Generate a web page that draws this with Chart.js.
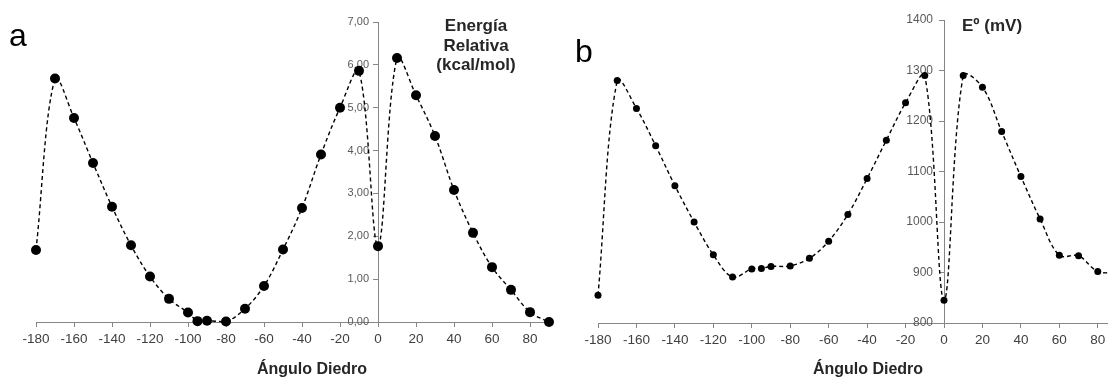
<!DOCTYPE html>
<html>
<head>
<meta charset="utf-8">
<script src="https://cdn.jsdelivr.net/npm/chart.js@4/dist/chart.umd.min.js"></script>
<style>
    html, body { margin: 0; padding: 0; background: #fff; overflow: hidden; width: 1108px; height: 378px; }
    #chart-a { position: absolute; left: 0; top: 0; }
    #chart-b { position: absolute; left: 556px; top: 0; }
</style>
</head>
<body>
<canvas id="chart-a" width="560" height="378"></canvas>
<canvas id="chart-b" width="580" height="378"></canvas>
<script>
// Ángulos diedros (común a los dos paneles)
const angles = [-180, -170, -160, -150, -140, -130, -120, -110, -100, -95, -90, -80, -70, -60, -50,
                -40, -30, -20, -10, 0, 10, 20, 30, 40, 50, 60, 70, 80, 90];

// Panel a: energía relativa (kcal/mol)
const energy = [1.68, 5.68, 4.76, 3.71, 2.69, 1.79, 1.06, 0.54, 0.22, 0.02, 0.03, 0.01, 0.31, 0.84, 1.69,
                2.66, 3.91, 5.00, 5.86, 1.77, 6.16, 5.29, 4.34, 3.08, 2.08, 1.28, 0.75, 0.23, 0.00];

// Panel b: potencial E° (mV)
const potential = [855, 1280, 1225, 1151, 1072, 1000, 935, 891, 907, 908, 912, 913, 928, 962, 1015,
                   1086, 1162, 1236, 1290, 845, 1290, 1267, 1179, 1090, 1006, 934, 933, 902, 900];

// Etiquetas de los ejes
const xTicks = [-180, -160, -140, -120, -100, -80, -60, -40, -20, 0, 20, 40, 60, 80];
const yTicksA = [0, 1, 2, 3, 4, 5, 6, 7];
const yTicksB = [800, 900, 1000, 1100, 1200, 1300, 1400];

const FONT = '"Liberation Sans", Arial, sans-serif';
const AXIS_COLOR = '#868686';

// Textos libres (letra del panel, títulos)
const panelText = {
    id: 'panelText',
    afterDraw(chart, args, opts) {
        const ctx = chart.ctx;
        ctx.save();
        ctx.textBaseline = 'alphabetic';
        opts.items.forEach(t => {
            ctx.font = t.font;
            ctx.fillStyle = t.color || '#000';
            ctx.textAlign = t.align || 'left';
            ctx.fillText(t.text, t.x, t.y);
        });
        ctx.restore();
    }
};

// El eje Y se cruza en x = 0: Chart.js pega las etiquetas al eje, las apartamos un poco
function shiftYLabels(scale, dx) {
    if (scale._shifted) return;
    const base = scale._computeLabelItems;
    scale._computeLabelItems = function (area) {
        const items = base.call(this, area);
        items.forEach(it => { it.options.translation[0] -= dx; });
        return items;
    };
    scale._shifted = true;
}

function makeChart(id, values, cfg) {
    return new Chart(document.getElementById(id), {
        type: 'line',
        data: {
            datasets: [{
                data: angles.map((a, i) => ({ x: a, y: values[i] })),
                borderColor: '#000',
                borderWidth: 1.4,
                borderDash: [4, 3],
                tension: 0.35,
                fill: false,
                clip: false,
                pointRadius: cfg.pointRadius,
                pointBackgroundColor: '#000',
                pointBorderColor: '#000',
                pointBorderWidth: 0
            }]
        },
        options: {
            responsive: false,
            animation: false,
            layout: { padding: cfg.padding },
            scales: {
                x: {
                    type: 'linear',
                    min: -180,
                    max: 90,
                    afterBuildTicks: s => { s.ticks = xTicks.map(v => ({ value: v })); },
                    afterFit: s => { s.height = cfg.xHeight; },
                    grid: { drawOnChartArea: false, drawTicks: true, tickLength: 5, color: AXIS_COLOR },
                    border: { display: true, color: AXIS_COLOR, width: 1 },
                    ticks: {
                        autoSkip: false,
                        maxRotation: 0,
                        padding: 4,
                        color: '#404040',
                        font: { family: FONT, size: 13.5 },
                        callback: v => String(v)
                    }
                },
                y: {
                    type: 'linear',
                    position: { x: 0 },
                    min: cfg.yTicks[0],
                    max: cfg.yTicks[cfg.yTicks.length - 1],
                    afterBuildTicks: s => { s.ticks = cfg.yTicks.map(v => ({ value: v })); },
                    afterUpdate: s => shiftYLabels(s, cfg.yShift),
                    grid: { drawOnChartArea: false, drawTicks: true, tickLength: 5, color: AXIS_COLOR },
                    border: { display: true, color: AXIS_COLOR, width: 1 },
                    ticks: {
                        padding: 2,
                        color: '#595959',
                        font: { family: FONT, size: cfg.yFontSize },
                        callback: cfg.yFormat
                    }
                }
            },
            plugins: {
                legend: { display: false },
                tooltip: { enabled: false },
                panelText: { items: cfg.texts }
            }
        },
        plugins: [panelText]
    });
}

makeChart('chart-a', energy, {
    pointRadius: 5,
    padding: { left: 36, right: 11, top: 22, bottom: 0 },
    xHeight: 56,
    yTicks: yTicksA,
    yFontSize: 11,
    yShift: 9,
    yFormat: v => v.toFixed(2).replace('.', ','),
    texts: [
        { text: 'a', x: 9, y: 46, font: '32px ' + FONT },
        { text: 'Energía', x: 476, y: 31, align: 'center', color: '#262626', font: 'bold 17px ' + FONT },
        { text: 'Relativa', x: 476, y: 51, align: 'center', color: '#262626', font: 'bold 17px ' + FONT },
        { text: '(kcal/mol)', x: 476, y: 70, align: 'center', color: '#262626', font: 'bold 17px ' + FONT },
        { text: 'Ángulo Diedro', x: 312, y: 374, align: 'center', color: '#262626', font: 'bold 16px ' + FONT }
    ]
});

makeChart('chart-b', potential, {
    pointRadius: 3.5,
    padding: { left: 42, right: 19, top: 20, bottom: 0 },
    xHeight: 55,
    yTicks: yTicksB,
    yFontSize: 12,
    yShift: 11,
    yFormat: v => String(v),
    texts: [
        { text: 'b', x: 19, y: 62, font: '32px ' + FONT },
        { text: 'Eº (mV)', x: 406, y: 31, color: '#262626', font: 'bold 17px ' + FONT },
        { text: 'Ángulo Diedro', x: 312, y: 374, align: 'center', color: '#262626', font: 'bold 16px ' + FONT }
    ]
});
</script>
</body>
</html>
